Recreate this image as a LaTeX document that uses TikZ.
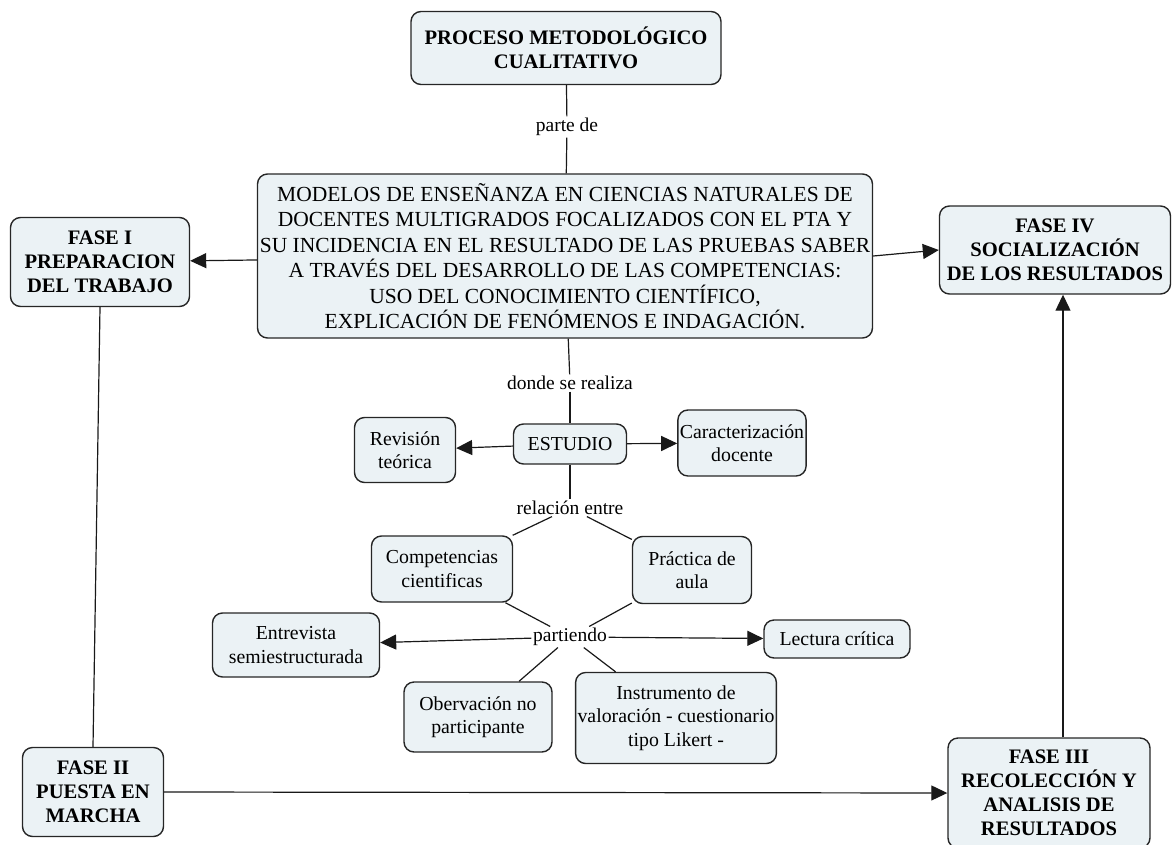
\documentclass[tikz,border=0pt]{standalone}
\usepackage{fontspec}
\setmainfont{Liberation Serif}
\usetikzlibrary{arrows.meta}
\definecolor{boxfill}{HTML}{EBF2F5}
\definecolor{boxdraw}{HTML}{262626}
\tikzset{
 concept/.style={draw=boxdraw, line width=1.4pt, fill=boxfill, rounded corners=10pt, align=center, inner sep=2pt, font=\fontsize{19.8}{23.5}\selectfont},
 phase/.style={concept, font=\fontsize{20.6}{24}\selectfont\bfseries},
 lbl/.style={font=\fontsize{19.5}{22}\selectfont, inner sep=1.5pt, fill=white},
 conn/.style={line width=1.2pt, draw=black!90},
 arr/.style={conn, -{Triangle[length=16pt,width=15pt]}},
}
\begin{document}
\begin{tikzpicture}[x=1pt,y=-1pt]
\useasboundingbox (0,0) rectangle (1176,844);
% nodes
\node[phase, minimum width=310pt, minimum height=73pt] (proc) at (566,48) {PROCESO METODOLÓGICO\\CUALITATIVO};
\node[concept, minimum width=615pt, minimum height=164pt, font=\fontsize{21.5}{25.5}\selectfont] (main) at (565,256)
 {MODELOS DE ENSEÑANZA EN CIENCIAS NATURALES DE\\DOCENTES MULTIGRADOS FOCALIZADOS CON EL PTA Y\\SU INCIDENCIA EN EL RESULTADO DE LAS PRUEBAS SABER\\A TRAVÉS DEL DESARROLLO DE LAS COMPETENCIAS:\\USO DEL CONOCIMIENTO CIENTÍFICO,\\EXPLICACIÓN DE FENÓMENOS E INDAGACIÓN.};
\node[phase, minimum width=179pt, minimum height=89pt] (f1) at (100,262) {FASE I\\PREPARACION\\DEL TRABAJO};
\node[phase, minimum width=231pt, minimum height=88pt] (f4) at (1055,250) {FASE IV\\SOCIALIZACIÓN\\DE LOS RESULTADOS};
\node[phase, minimum width=141pt, minimum height=89pt] (f2) at (93,792) {FASE II\\PUESTA EN\\MARCHA};
\node[phase, minimum width=202pt, minimum height=110pt] (f3) at (1049,793) {FASE III\\RECOLECCIÓN Y\\ANALISIS DE\\RESULTADOS};
\node[concept, minimum width=113pt, minimum height=40pt] (est) at (570,444) {ESTUDIO};
\node[concept, minimum width=101pt, minimum height=65pt] (rev) at (405,450) {Revisión\\teórica};
\node[concept, minimum width=127pt, minimum height=66pt] (car) at (742,443) {Caracterización\\docente};
\node[concept, minimum width=141pt, minimum height=66pt] (comp) at (442,569) {Competencias\\cientificas};
\node[concept, minimum width=119pt, minimum height=67pt] (prac) at (692,570) {Práctica de\\aula};
\node[concept, minimum width=167pt, minimum height=64pt] (ent) at (296,645) {Entrevista\\semiestructurada};
\node[concept, minimum width=146pt, minimum height=38pt] (lec) at (837,639) {Lectura crítica};
\node[concept, minimum width=148pt, minimum height=70pt] (obs) at (478,717) {Obervación no\\participante};
\node[concept, minimum width=200pt, minimum height=91pt] (ins) at (676,718) {Instrumento de\\valoración - cuestionario\\tipo Likert -};
% labels
\node[lbl] (partede) at (567,127) {parte de};
\node[lbl] (donde) at (570,383) {donde se realiza};
\node[lbl] (rel) at (570,508) {relación entre};
\node[lbl] (part) at (570,637) {partiendo};
% connectors
\draw[conn] (proc) -- (partede);
\draw[conn] (partede) -- (main);
\draw[arr] (main) -- (f1);
\draw[arr] (main.east) -- (f4.west);
\draw[conn] (f1.south) -- (f2.north);
\draw[arr] (f2.east) -- (f3.west);
\draw[arr] ([xshift=14pt]f3.north) -- ([xshift=8pt]f4.south);
\draw[conn] (main) -- (donde);
\draw[conn] (donde) -- (est);
\draw[arr] (est) -- (rev);
\draw[arr] (est) -- (car);
\draw[conn] (est) -- (rel);
\draw[conn] (rel) -- (comp);
\draw[conn] (rel) -- (prac);
\draw[conn] (comp) -- (part);
\draw[conn] (prac) -- (part);
\draw[arr] (part) -- (ent);
\draw[arr] (part) -- (lec);
\draw[conn] (part) -- (obs);
\draw[conn] (part) -- (ins);
\end{tikzpicture}
\end{document}
